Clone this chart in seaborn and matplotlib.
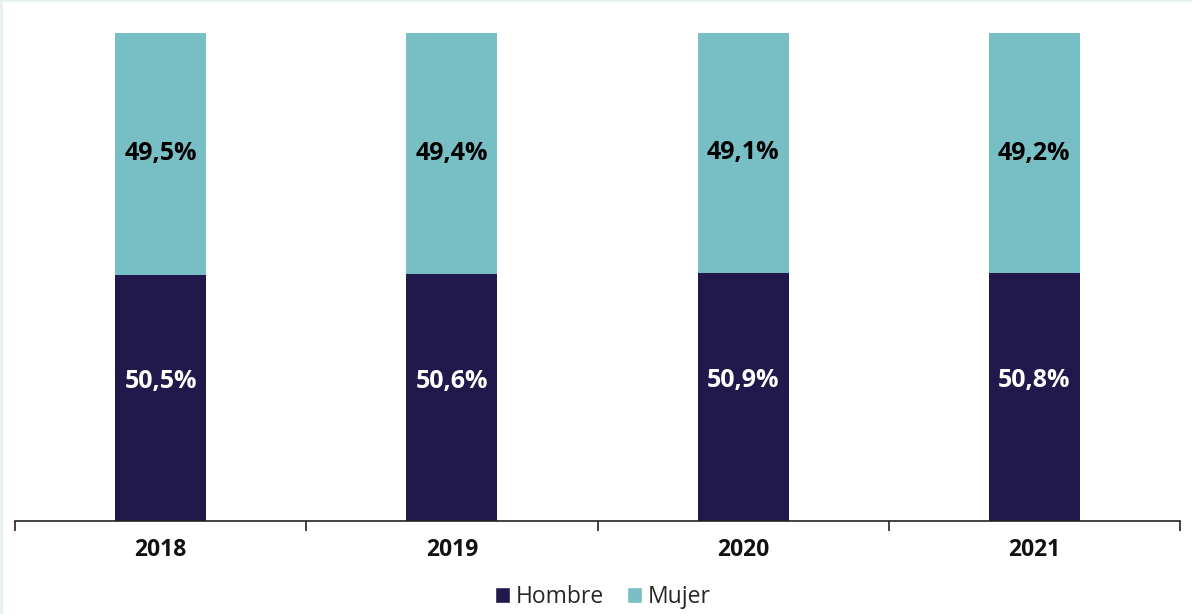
import matplotlib
matplotlib.use("Agg")
import matplotlib.pyplot as plt
from matplotlib.patches import Patch, Rectangle
import seaborn as sns
import pandas as pd

years = ["2018", "2019", "2020", "2021"]
hombre = [50.5, 50.6, 50.9, 50.8]
mujer = [49.5, 49.4, 49.1, 49.2]

color_hombre = "#21184B"
color_mujer = "#77BFC4"

sns.set_theme(style="white")
plt.rcParams["font.family"] = ["Open Sans", "DejaVu Sans"]

df = pd.DataFrame({"year": years, "hombre": hombre, "mujer": mujer})
df["total"] = df["hombre"] + df["mujer"]

fig = plt.figure(figsize=(11.92, 6.14), dpi=100)
ax = fig.add_axes([15 / 1192, 1 - 521 / 614, (1180 - 15) / 1192, (521 - 33) / 614])

# stacked bars: full height in teal, lower segment in navy
sns.barplot(data=df, x="year", y="total", color=color_mujer, width=0.312,
            saturation=1, ax=ax, linewidth=0)
sns.barplot(data=df, x="year", y="hombre", color=color_hombre, width=0.312,
            saturation=1, ax=ax, linewidth=0)

def fmt(v):
    return f"{v:.1f}".replace(".", ",") + "%"

for i, (h, m) in enumerate(zip(hombre, mujer)):
    ax.text(i, h * 0.565, fmt(h), ha="center", va="center", color="white",
            fontsize=18, fontweight="bold")
    ax.text(i, h + m / 2, fmt(m), ha="center", va="center", color="black",
            fontsize=18, fontweight="bold")

ax.set_xlim(-0.5, len(years) - 0.5)
ax.set_ylim(0, df["total"].max())
ax.set_xlabel("")
ax.set_ylabel("")
ax.set_yticks([])
for s in ["top", "right", "left"]:
    ax.spines[s].set_visible(False)
ax.spines["bottom"].set_color("#222222")
ax.spines["bottom"].set_linewidth(1.2)

# category labels at centres, tick marks on the boundaries
ax.set_xticks(range(len(years)))
ax.set_xticklabels(years, fontsize=16.5, fontweight="bold", color="#111111")
ax.tick_params(axis="x", which="major", length=0, pad=12)
ax.set_xticks([i - 0.5 for i in range(len(years) + 1)], minor=True)
ax.tick_params(axis="x", which="minor", length=7, width=1.2, color="#222222",
               direction="out", bottom=True)

handles = [Patch(facecolor=color_hombre, label="Hombre"),
           Patch(facecolor=color_mujer, label="Mujer")]
fig.legend(handles=handles, loc="center", bbox_to_anchor=(0.506, 1 - 597 / 614),
           ncol=2, frameon=False, fontsize=16.5, handlelength=0.65, handleheight=0.65,
           handletextpad=0.25, columnspacing=1.0)

# thin frame strips along the left and top edges
fig.patches.append(Rectangle((0, 0), 3 / 1192, 1, transform=fig.transFigure,
                             facecolor="#E8F0F1", edgecolor="none"))
fig.patches.append(Rectangle((0, 1 - 2 / 614), 1, 2 / 614, transform=fig.transFigure,
                             facecolor="#E8F0F1", edgecolor="none"))

fig.savefig("out.png", dpi=100, facecolor="white")
